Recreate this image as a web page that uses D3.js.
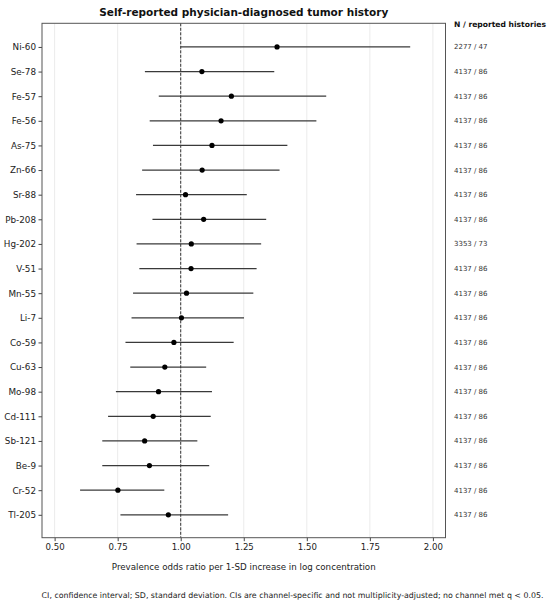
<!DOCTYPE html>
<html>
<head>
<meta charset="utf-8">
<script src="https://cdn.jsdelivr.net/npm/d3@7"></script>
<style>
  body { margin: 0; background: white; }
  text { font-family: "DejaVu Sans", sans-serif; }
</style>
</head>
<body>
<div id="chart"></div>
<script>
// Data
const channels = ["Ni-60", "Se-78", "Fe-57", "Fe-56", "As-75", "Zn-66", "Sr-88", "Pb-208", "Hg-202", "V-51",
                  "Mn-55", "Li-7", "Co-59", "Cu-63", "Mo-98", "Cd-111", "Sb-121", "Be-9", "Cr-52", "Tl-205"];
const oddsRatio = [1.382, 1.084, 1.201, 1.160, 1.124, 1.085, 1.019, 1.091, 1.042, 1.041,
                   1.023, 1.003, 0.973, 0.937, 0.912, 0.891, 0.857, 0.876, 0.751, 0.951];
const ciLow = [1.000, 0.858, 0.913, 0.877, 0.890, 0.847, 0.823, 0.888, 0.825, 0.836,
               0.811, 0.805, 0.781, 0.800, 0.743, 0.712, 0.689, 0.689, 0.601, 0.761];
const ciHigh = [1.910, 1.371, 1.577, 1.538, 1.423, 1.392, 1.262, 1.339, 1.319, 1.301,
                1.288, 1.251, 1.210, 1.101, 1.124, 1.119, 1.066, 1.113, 0.935, 1.188];
const countLabels = ["2277 / 47", "4137 / 86", "4137 / 86", "4137 / 86", "4137 / 86", "4137 / 86", "4137 / 86",
                     "4137 / 86", "3353 / 73", "4137 / 86", "4137 / 86", "4137 / 86", "4137 / 86", "4137 / 86",
                     "4137 / 86", "4137 / 86", "4137 / 86", "4137 / 86", "4137 / 86", "4137 / 86"];
const xTicks = [0.50, 0.75, 1.00, 1.25, 1.50, 1.75, 2.00];

const w = 550;
const h = 605;
const plot = {left: 42, right: 445.5, top: 23.3, bottom: 537.7};

const svg = d3.select("#chart")
  .append("svg")
  .attr("width", w)
  .attr("height", h)
  .style("background-color", "white");

const xScale = d3.scaleLinear()
  .domain([0.45, 2.05])
  .range([plot.left, plot.right]);

// rows sit on integer positions, with some room above and below
const yScale = d3.scaleLinear()
  .domain([-0.96, 19.93])
  .range([plot.top, plot.bottom]);

// Gridlines
svg.selectAll(".grid")
  .data(xTicks)
  .enter()
  .append("line")
  .attr("x1", d => xScale(d))
  .attr("x2", d => xScale(d))
  .attr("y1", plot.top)
  .attr("y2", plot.bottom)
  .attr("stroke", "#e6e6e6")
  .attr("stroke-width", 0.8);

// Reference line at OR = 1
svg.append("line")
  .attr("x1", xScale(1))
  .attr("x2", xScale(1))
  .attr("y1", plot.top)
  .attr("y2", plot.bottom)
  .attr("stroke", "#333")
  .attr("stroke-width", 1)
  .attr("stroke-dasharray", "3,1.5");

// CI lines
svg.selectAll(".ci")
  .data(channels)
  .enter()
  .append("line")
  .attr("x1", (d, i) => xScale(ciLow[i]))
  .attr("x2", (d, i) => xScale(ciHigh[i]))
  .attr("y1", (d, i) => yScale(i))
  .attr("y2", (d, i) => yScale(i))
  .attr("stroke", "#3a3a3a")
  .attr("stroke-width", 1.2);

// Point estimates
svg.selectAll(".pt")
  .data(channels)
  .enter()
  .append("circle")
  .attr("cx", (d, i) => xScale(oddsRatio[i]))
  .attr("cy", (d, i) => yScale(i))
  .attr("r", 2.6)
  .attr("fill", "black");

// Axes
const xAxis = d3.axisBottom(xScale).tickValues(xTicks).tickFormat(d3.format(".2f")).tickSize(3.5).tickPadding(3);
const yAxis = d3.axisLeft(yScale).tickValues(d3.range(channels.length)).tickFormat(i => channels[i]).tickSize(3.5).tickPadding(2.5);

const gx = svg.append("g")
  .attr("transform", "translate(0," + plot.bottom + ")")
  .call(xAxis);
gx.select(".domain").remove();
gx.selectAll("text").style("font-size", "8.6px").attr("fill", "#222");
gx.selectAll("line").attr("stroke", "#444");

const gy = svg.append("g")
  .attr("transform", "translate(" + plot.left + ",0)")
  .call(yAxis);
gy.select(".domain").remove();
gy.selectAll("text").style("font-size", "8.8px").attr("fill", "#222");
gy.selectAll("line").attr("stroke", "#444");

// Frame
svg.append("rect")
  .attr("x", plot.left)
  .attr("y", plot.top)
  .attr("width", plot.right - plot.left)
  .attr("height", plot.bottom - plot.top)
  .attr("fill", "none")
  .attr("stroke", "#555")
  .attr("stroke-width", 1);

// Right-hand counts
svg.append("text")
  .attr("x", 454)
  .attr("y", yScale(-0.92))
  .attr("dy", "0.35em")
  .style("font-size", "7.6px")
  .style("font-weight", "bold")
  .attr("fill", "#111")
  .text("N / reported histories");

svg.selectAll(".counts")
  .data(countLabels)
  .enter()
  .append("text")
  .attr("x", 454)
  .attr("y", (d, i) => yScale(i))
  .attr("dy", "0.35em")
  .style("font-size", "7px")
  .attr("fill", "#333")
  .text(d => d);

// Title
svg.append("text")
  .attr("x", (plot.left + plot.right) / 2)
  .attr("y", 12)
  .attr("dy", "0.35em")
  .attr("text-anchor", "middle")
  .style("font-size", "10.5px")
  .style("font-weight", "bold")
  .attr("fill", "#111")
  .text("Self-reported physician-diagnosed tumor history");

// X-axis label
svg.append("text")
  .attr("x", (plot.left + plot.right) / 2)
  .attr("y", 567)
  .attr("dy", "0.35em")
  .attr("text-anchor", "middle")
  .style("font-size", "8.7px")
  .attr("fill", "#222")
  .text("Prevalence odds ratio per 1-SD increase in log concentration");

// Footnote
svg.append("text")
  .attr("x", 292.5)
  .attr("y", 595)
  .attr("dy", "0.35em")
  .attr("text-anchor", "middle")
  .style("font-size", "7.85px")
  .attr("fill", "#222")
  .text("CI, confidence interval; SD, standard deviation. CIs are channel-specific and not multiplicity-adjusted; no channel met q < 0.05.");
</script>
</body>
</html>
